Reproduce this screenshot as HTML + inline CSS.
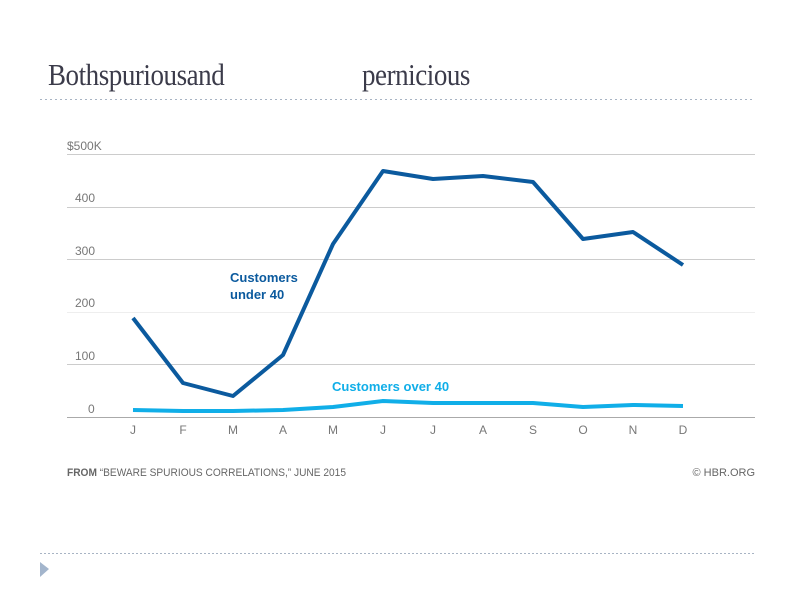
<!DOCTYPE html>
<html><head><style>
body{margin:0;width:800px;height:600px;background:#fff;overflow:hidden;position:relative;font-family:"Liberation Sans",sans-serif}
.t{position:absolute;left:48px;top:57px;font-family:"Liberation Serif",serif;font-size:31px;color:#3b3b4a;letter-spacing:-0.5px;transform:scaleX(0.87);transform-origin:0 0}
</style></head><body>
<div class="t">Bothspuriousand</div>
<div class="t" style="left:362px">pernicious</div>
<svg width="800" height="600" style="position:absolute;left:0;top:0">
<line x1="40" y1="99.5" x2="755" y2="99.5" stroke="#a8b4c4" stroke-dasharray="2,3"/>
<line x1="40" y1="553.5" x2="755" y2="553.5" stroke="#a8b4c4" stroke-dasharray="2,2"/>
<polygon points="40,562 49,569 40,577" fill="#a3b5cc"/>
<g stroke="#ccc" stroke-width="1">
<line x1="67" y1="154.5" x2="755" y2="154.5"/>
<line x1="67" y1="207.5" x2="755" y2="207.5"/>
<line x1="67" y1="259.5" x2="755" y2="259.5"/>
<line x1="67" y1="312.5" x2="755" y2="312.5" stroke="#eee"/>
<line x1="67" y1="364.5" x2="755" y2="364.5"/>
</g>
<line x1="67" y1="417.5" x2="755" y2="417.5" stroke="#aaa"/>
<g font-size="12" fill="#777">
<text x="67" y="150">$500K</text>
<text x="75" y="202">400</text>
<text x="75" y="255">300</text>
<text x="75" y="307">200</text>
<text x="75" y="360">100</text>
<text x="88" y="413">0</text>
</g>
<g font-size="12" fill="#777" text-anchor="middle">
<text x="133" y="434">J</text><text x="183" y="434">F</text><text x="233" y="434">M</text><text x="283" y="434">A</text><text x="333" y="434">M</text><text x="383" y="434">J</text><text x="433" y="434">J</text><text x="483" y="434">A</text><text x="533" y="434">S</text><text x="583" y="434">O</text><text x="633" y="434">N</text><text x="683" y="434">D</text>
</g>
<polyline fill="none" stroke="#0b5a9e" stroke-width="4" stroke-linejoin="round" points="133,318 183,383 233,396 283,355 333,244 383,171 433,179 483,176 533,182 583,239 633,232 683,265"/>
<polyline fill="none" stroke="#10aee8" stroke-width="4" stroke-linejoin="round" points="133,410 183,411 233,411 283,410 333,407 383,401 433,403 483,403 533,403 583,407 633,405 683,406"/>
<text x="230" y="282" font-size="13" font-weight="bold" fill="#0b5a9e">Customers</text>
<text x="230" y="299" font-size="13" font-weight="bold" fill="#0b5a9e">under 40</text>
<text x="332" y="391" font-size="13" font-weight="bold" fill="#10aee8">Customers over 40</text>
<text x="67" y="476" font-size="11" fill="#666" textLength="279" lengthAdjust="spacingAndGlyphs"><tspan font-weight="bold">FROM</tspan>  “BEWARE SPURIOUS CORRELATIONS,” JUNE 2015</text>
<text x="755" y="476" font-size="11" fill="#666" text-anchor="end">© HBR.ORG</text>
</svg>
</body></html>
